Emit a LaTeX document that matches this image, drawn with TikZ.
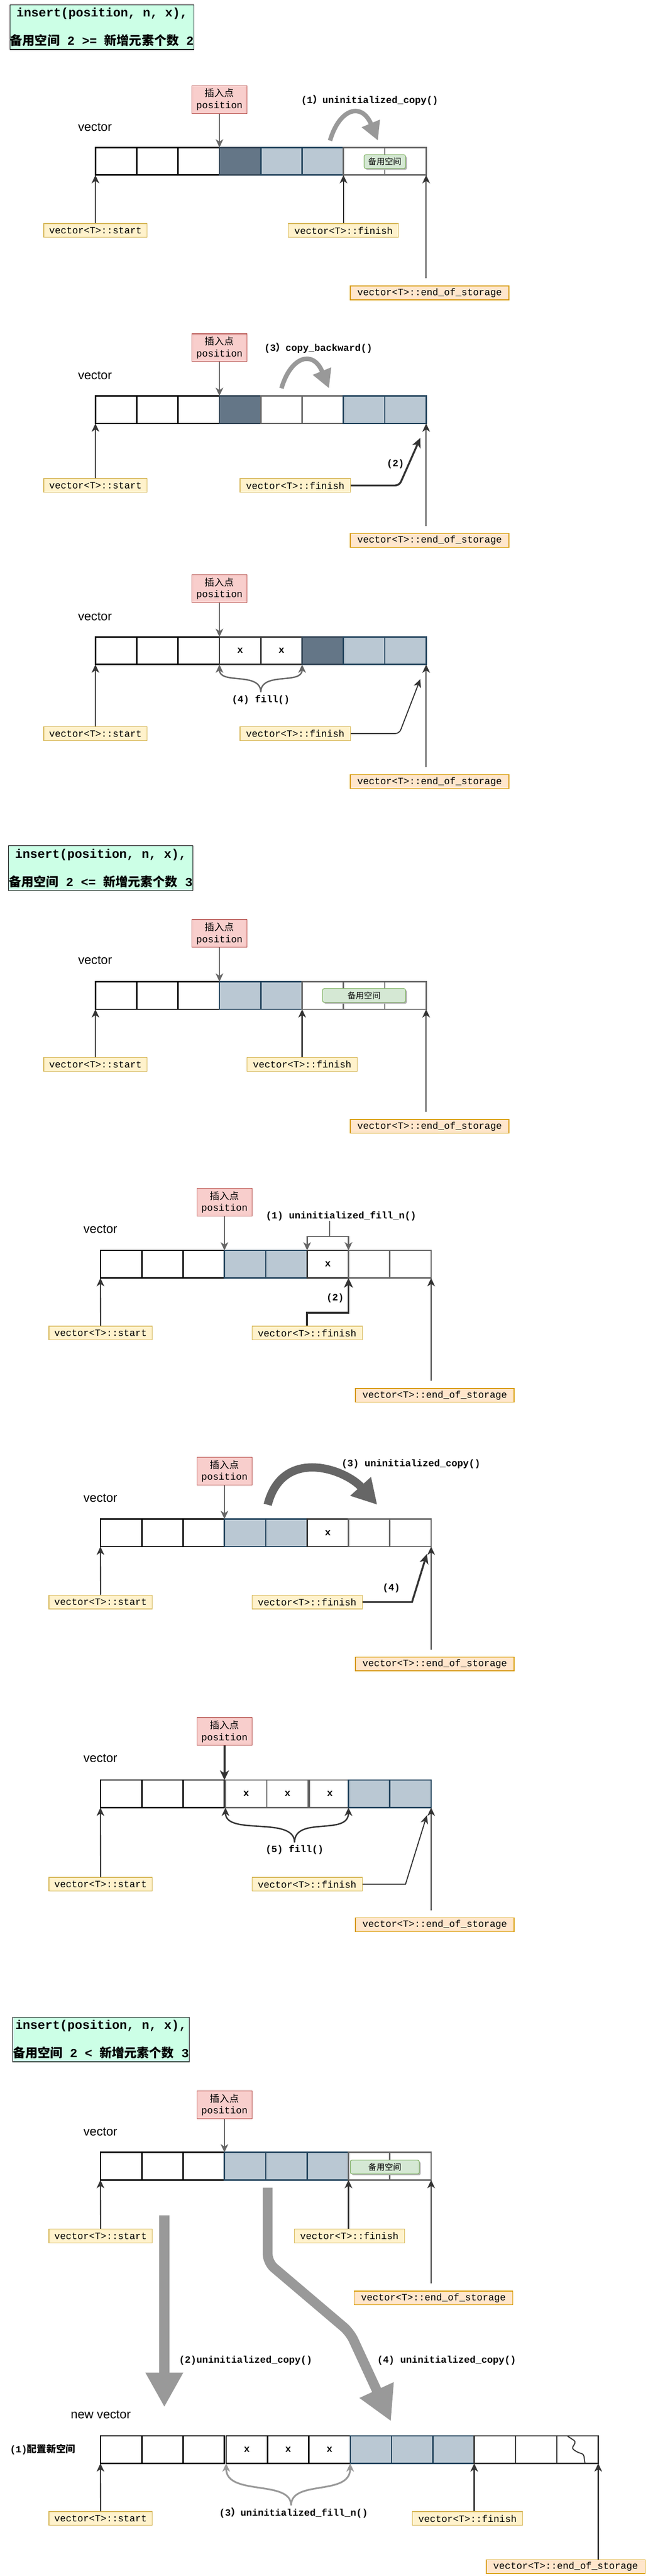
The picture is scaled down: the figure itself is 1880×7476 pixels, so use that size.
\documentclass[tikz,border=0pt]{standalone}
\usepackage{fontspec}
\setmainfont{Liberation Sans}
\setmonofont{Liberation Mono}
\newfontfamily\cjk{Noto Sans CJK SC}
\usepackage{tikz}
\usetikzlibrary{arrows.meta,shadows,calc}

\definecolor{mint}{HTML}{CCFFE6}
\definecolor{pinkF}{HTML}{F8CECC}
\definecolor{pinkD}{HTML}{B85450}
\definecolor{yelF}{HTML}{FFF2CC}
\definecolor{yelD}{HTML}{D6B656}
\definecolor{oraF}{HTML}{FFE6CC}
\definecolor{oraD}{HTML}{D79B00}
\definecolor{grnF}{HTML}{D5E8D4}
\definecolor{grnD}{HTML}{82B366}
\definecolor{drkF}{HTML}{647687}
\definecolor{drkD}{HTML}{314354}
\definecolor{bluF}{HTML}{BAC8D3}
\definecolor{bluD}{HTML}{23445D}
\definecolor{g3}{HTML}{333333}
\definecolor{g6}{HTML}{666666}
\definecolor{g9}{HTML}{999999}

\tikzset{
  cell/.style={draw, line width=2pt, minimum width=60pt, minimum height=40pt, inner sep=0pt, outer sep=0pt, font=\ttfamily\bfseries\fontsize{14}{17}\selectfont},
  blk/.style={draw=black, fill=white},
  gry/.style={draw=g6, fill=white},
  dkg/.style={draw=g3, fill=white},
  drk/.style={draw=drkD, fill=drkF},
  blu/.style={draw=bluD, fill=bluF},
  title/.style={draw=black, fill=mint, line width=1pt, minimum height=64.7pt, inner sep=0pt, align=center, font=\ttfamily\bfseries\fontsize{18}{41}\selectfont},
  insp/.style={draw=pinkD, fill=pinkF, line width=1pt, minimum width=80pt, minimum height=40.3pt, inner sep=0pt, align=center, font=\ttfamily\fontsize{14}{17}\selectfont},
  ylw/.style={draw=yelD, fill=yelF, line width=1pt, minimum height=20pt, inner sep=0pt, font=\ttfamily\fontsize{14}{17}\selectfont},
  org/.style={draw=oraD, fill=oraF, line width=1pt, minimum width=230.3pt, minimum height=20pt, inner sep=0pt, font=\ttfamily\fontsize{14}{17}\selectfont},
  spare/.style={draw=grnD, fill=grnF, line width=1pt, rounded corners=2.5pt, minimum height=20pt, inner sep=0pt, font=\cjk\fontsize{12}{14}\selectfont, drop shadow={shadow xshift=2pt, shadow yshift=-2pt, fill=black!30, opacity=1}},
  vec/.style={inner sep=0pt, font=\fontsize{18}{22}\selectfont},
  lbl/.style={inner sep=0pt, font=\ttfamily\bfseries\fontsize{14}{17}\selectfont},
  ptip/.tip={Stealth[length=12pt,width=11pt,inset=3.5pt]},
  btip/.tip={Stealth[length=14pt,width=13pt,inset=4pt]},
  ptr/.style={draw=g3, line width=1.75pt, -ptip},
  posa/.style={draw=g6, line width=1.5pt, -ptip},
  thk/.style={draw=g3, line width=2.75pt, rounded corners=6pt, -btip},
  thn/.style={draw=g3, line width=1.5pt, rounded corners=6pt, -ptip},
  brc/.style={line width=2pt, ptip-ptip},
  cbend/.style={draw=g9, line width=6.5pt, -{Triangle[length=27pt,width=27pt]}},
  fat/.style={draw=g9, line width=14.25pt, rounded corners=12pt, -{Triangle[length=50pt,width=51pt]}}
}

\begin{document}
\begin{tikzpicture}[x=0.5pt,y=-0.5pt]
    \fill[white] (0,0) rectangle (1880,7476);
    \useasboundingbox (0,0) rectangle (1880,7476);

    \node[title, minimum width=267pt] (t1) at (296,78.6) {insert(position, n, x),\\{\cjk 备用空间} 2 >= {\cjk 新增元素个数} 2};
    \node[vec] (v1) at (275.6,369) {vector};
    \foreach \k/\s in {0/blk,1/blk,2/blk,3/drk,4/blu,5/blu,6/gry,7/gry}
        \node[cell,\s] (p1c\k) at ({277+(\k+0.5)*120},468) {};
    \node[insp] (ps1) at (637,289) {{\cjk 插入点}\\position};
    \draw[posa] (ps1) -- (p1c3.north west);
    \node[lbl] (l1) at (1073,290) {(1{\cjk ）}uninitialized\_copy()};
    \coordinate (k1a) at (958,408);
    \coordinate (k1b) at (1097,408);
    \draw[cbend] (k1a) .. controls (985,315) and (1050,295) .. (k1b);
    \node[spare, minimum width=60pt] (s1) at (1117,469) {备用空间};
    \node[ylw, minimum width=150pt] (st1) at (277,669) {vector<T>::start};
    \node[ylw, minimum width=160pt] (fn1) at (997,669) {vector<T>::finish};
    \node[org] (eos1) at (1247,850) {vector<T>::end\_of\_storage};
    \draw[ptr] (st1) -- (p1c0.south west);
    \draw[ptr] (fn1) -- (p1c6.south west);
    \coordinate (e1) at ($(p1c7.south east |- eos1.north)+(0,-21)$);
    \draw[ptr] (e1) -- (p1c7.south east);

    \node[vec] (v2) at (275.6,1090) {vector};
    \foreach \k/\s in {0/blk,1/blk,2/blk,3/drk,4/gry,5/gry,6/blu,7/blu}
        \node[cell,\s] (p2c\k) at ({277+(\k+0.5)*120},1189) {};
    \node[insp] (ps2) at (637,1009) {{\cjk 插入点}\\position};
    \draw[posa] (ps2) -- (p2c3.north west);
    \node[lbl] (l2) at (924,1010) {(3{\cjk ）}copy\_backward()};
    \coordinate (k2a) at (817,1127);
    \coordinate (k2b) at (955,1127);
    \draw[cbend] (k2a) .. controls (844,1034) and (909,1014) .. (k2b);
    \node[ylw, minimum width=150pt] (st2) at (277,1409) {vector<T>::start};
    \node[ylw, minimum width=160pt] (fn2) at (857,1409) {vector<T>::finish};
    \node[org] (eos2) at (1247,1568.5) {vector<T>::end\_of\_storage};
    \draw[ptr] (st2) -- (p2c0.south west);
    \coordinate (k2c) at (1220,1271);
    \draw[thk] (fn2.east) -- (1159,1409) -- (k2c);
    \node[lbl] (n2) at (1148,1347) {(2)};
    \coordinate (e2) at ($(p2c7.south east |- eos2.north)+(0,-21)$);
    \draw[ptr] (e2) -- (p2c7.south east);

    \node[vec] (v3) at (275.6,1790) {vector};
    \foreach \k/\s/\q in {0/blk/{},1/blk/{},2/blk/{},3/dkg/x,4/dkg/x,5/drk/{},6/blu/{},7/blu/{}}
        \node[cell,\s] (p3c\k) at ({277+(\k+0.5)*120},1888.5) {\q};
    \node[insp] (ps3) at (637,1708.5) {{\cjk 插入点}\\position};
    \draw[posa] (ps3) -- (p3c3.north west);
    \coordinate (m3) at (757,2009);
    \draw[brc, draw=g6] (p3c3.south west) .. controls (637,1988) and (757,1948) .. (m3) .. controls (757,1948) and (877,1988) .. (p3c5.south west);
    \node[lbl] (f3) at (757,2031) {(4) fill()};
    \node[ylw, minimum width=150pt] (st3) at (277,2129) {vector<T>::start};
    \node[ylw, minimum width=160pt] (fn3) at (857,2129) {vector<T>::finish};
    \node[org] (eos3) at (1247,2268.5) {vector<T>::end\_of\_storage};
    \draw[ptr] (st3) -- (p3c0.south west);
    \coordinate (k3c) at (1220,1971);
    \draw[thn] (fn3.east) -- (1159,2129) -- (k3c);
    \coordinate (e3) at ($(p3c7.south east |- eos3.north)+(0,-21)$);
    \draw[ptr] (e3) -- (p3c7.south east);

    \node[title, minimum width=267.7pt] (t2) at (292.5,2519.5) {insert(position, n, x),\\{\cjk 备用空间} 2 <= {\cjk 新增元素个数} 3};
    \node[vec] (v4) at (276,2787.5) {vector};
    \foreach \k/\s in {0/blk,1/blk,2/blk,3/blu,4/blu,5/gry,6/gry,7/gry}
        \node[cell,\s] (p4c\k) at ({277+(\k+0.5)*120},2889) {};
    \node[insp] (ps4) at (637,2709) {{\cjk 插入点}\\position};
    \draw[posa] (ps4) -- (p4c3.north west);
    \node[spare, minimum width=120.4pt] (s4) at (1056.7,2889) {备用空间};
    \node[ylw, minimum width=150pt] (st4) at (277,3089) {vector<T>::start};
    \node[ylw, minimum width=160pt] (fn4) at (877,3089) {vector<T>::finish};
    \node[org] (eos4) at (1247,3269) {vector<T>::end\_of\_storage};
    \draw[ptr] (st4) -- (p4c0.south west);
    \draw[ptr] (fn4) -- (p4c5.south west);
    \coordinate (e4) at ($(p4c7.south east |- eos4.north)+(0,-21)$);
    \draw[ptr] (e4) -- (p4c7.south east);

    \node[vec] (v5) at (291.5,3568) {vector};
    \foreach \k/\s/\q in {0/blk/{},1/blk/{},2/blk/{},3/blu/{},4/blu/{},5/dkg/x,6/gry/{},7/gry/{}}
        \node[cell,\s] (p5c\k) at ({291.5+(\k+0.5)*120},3669) {\q};
    \node[insp] (ps5) at (651.5,3489) {{\cjk 插入点}\\position};
    \draw[posa] (ps5) -- (p5c3.north west);
    \node[lbl] (l5) at (990,3530) {(1) uninitialized\_fill\_n()};
    \coordinate (b5) at (957,3588.5);
    \draw[g6, line width=2pt] (l5.south -| b5) -- (b5);
    \draw[posa, line width=2pt] (b5) -| (p5c5.north west);
    \draw[posa, line width=2pt] (b5) -| (p5c6.north west);
    \node[ylw, minimum width=150pt] (st5) at (292,3868.5) {vector<T>::start};
    \node[ylw, minimum width=160pt] (fn5) at (891.5,3868.5) {vector<T>::finish};
    \node[org] (eos5) at (1262,4049.5) {vector<T>::end\_of\_storage};
    \draw[ptr] (st5) -- (p5c0.south west);
    \coordinate (k5) at (891.5,3809.5);
    \draw[thk, rounded corners=0pt] (fn5.north) -- (k5) -| (p5c6.south west);
    \node[lbl] (n5) at (973,3768) {(2)};
    \coordinate (e5) at ($(p5c7.south east |- eos5.north)+(0,-21)$);
    \draw[ptr] (e5) -- (p5c7.south east);

    \node[vec] (v6) at (291.5,4348) {vector};
    \foreach \k/\s/\q in {0/blk/{},1/blk/{},2/blk/{},3/blu/{},4/blu/{},5/dkg/x,6/gry/{},7/gry/{}}
        \node[cell,\s] (p6c\k) at ({291.5+(\k+0.5)*120},4448.5) {\q};
    \node[insp] (ps6) at (651.5,4269.5) {{\cjk 插入点}\\position};
    \draw[posa] (ps6) -- (p6c3.north west);
    \node[lbl] (l6) at (1193,4249.5) {(3) uninitialized\_copy()};
    \coordinate (k6a) at (777,4367);
    \coordinate (k6b) at (1095,4367);
    \draw[draw=g6, line width=12pt, -{Triangle[length=36pt,width=38pt]}] (k6a) .. controls (820,4200) and (1000,4262) .. (k6b);
    \node[ylw, minimum width=150pt] (st6) at (292,4649.5) {vector<T>::start};
    \node[ylw, minimum width=160pt] (fn6) at (891.5,4649.5) {vector<T>::finish};
    \node[org] (eos6) at (1262,4829) {vector<T>::end\_of\_storage};
    \draw[ptr] (st6) -- (p6c0.south west);
    \coordinate (k6c) at (1239,4510);
    \draw[thk, rounded corners=0pt] (fn6.east) -- (1196,4649.5) -- (k6c);
    \node[lbl] (n6) at (1136,4609) {(4)};
    \coordinate (e6) at ($(p6c7.south east |- eos6.north)+(0,-21)$);
    \draw[ptr] (e6) -- (p6c7.south east);

    \node[vec] (v7) at (291.5,5103) {vector};
    \foreach \k/\s/\q/\d in {0/blk/{}/0,1/blk/{}/0,2/blk/{}/0,3/gry/x/3,4/gry/x/3,5/gry/x/6,6/blu/{}/0,7/blu/{}/0}
        \node[cell,\s] (p7c\k) at ({291.5+(\k+0.5)*120+\d},5206) {\q};
    \node[insp] (ps7) at (651.5,5025) {{\cjk 插入点}\\position};
    \draw[thk] (ps7) -- (p7c2.north east);
    \coordinate (m7) at (855,5347);
    \draw[brc, draw=g3] (p7c3.south west) .. controls (654.5,5329) and (855,5269) .. (m7) .. controls (855,5269) and (1011.5,5329) .. (p7c6.south west);
    \node[lbl] (f7) at (855,5369) {(5) fill()};
    \node[ylw, minimum width=150pt] (st7) at (292,5468.5) {vector<T>::start};
    \node[ylw, minimum width=160pt] (fn7) at (891.5,5468.5) {vector<T>::finish};
    \node[org] (eos7) at (1262,5586) {vector<T>::end\_of\_storage};
    \draw[ptr] (st7) -- (p7c0.south west);
    \coordinate (k7c) at (1239,5268.5);
    \draw[thn, rounded corners=0pt] (fn7.east) -- (1177,5468.5) -- (k7c);
    \coordinate (e7) at ($(p7c7.south east |- eos7.north)+(0,-21)$);
    \draw[ptr] (e7) -- (p7c7.south east);

    \node[title, minimum width=256.2pt] (t3) at (293,5919) {insert(position, n, x),\\{\cjk 备用空间} 2 < {\cjk 新增元素个数} 3};
    \node[vec] (v8) at (291.5,6187) {vector};
    \foreach \k/\s in {0/blk,1/blk,2/blk,3/blu,4/blu,5/blu,6/gry,7/gry}
        \node[cell,\s] (p8c\k) at ({291.5+(\k+0.5)*120},6286.5) {};
    \node[insp] (ps8) at (651.5,6108.5) {{\cjk 插入点}\\position};
    \draw[posa] (ps8) -- (p8c3.north west);
    \node[spare, minimum width=100pt] (s8) at (1117,6289) {备用空间};
    \node[ylw, minimum width=150pt] (st8) at (292,6489) {vector<T>::start};
    \node[ylw, minimum width=160pt] (fn8) at (1014,6489) {vector<T>::finish};
    \node[org] (eos8) at (1258,6669) {vector<T>::end\_of\_storage};
    \draw[ptr] (st8) -- (p8c0.south west);
    \draw[ptr] (fn8.north -| p8c6.south west) -- (p8c6.south west);
    \coordinate (e8) at ($(p8c7.south east |- eos8.north)+(0,-21)$);
    \draw[ptr] (e8) -- (p8c7.south east);
    \coordinate (g2a) at (477,6429);
    \coordinate (g2b) at (477,6986);
    \draw[fat] (g2a) -- (g2b);
    \node[lbl] (l8a) at (713,6850) {(2)uninitialized\_copy()};
    \coordinate (g4a) at (777,6349);
    \coordinate (g4b) at (1135,7027);
    \draw[fat] (g4a) -- (777,6566) -- (1016,6769) -- (g4b);
    \node[lbl] (l8b) at (1296.5,6850) {(4) uninitialized\_copy()};

    \node[vec] (v9) at (292.5,7007.5) {new vector};
    \node[lbl] (a9) at (124,7108) {(1){\cjk 配置新空间}};
    \foreach \k/\s/\q/\d in {0/blk/{}/0,1/blk/{}/0,2/blk/{}/0,3/blk/x/5,4/blk/x/5,5/blk/x/5,6/blu/{}/5,7/blu/{}/5,8/blu/{}/5,9/dkg/{}/5,10/dkg/{}/5,11/dkg/{}/5}
        \node[cell,\s] (p9c\k) at ({291.5+(\k+0.5)*120+\d},7109) {\q};
    \draw[line width=1.5pt, g3, rounded corners=3pt] (1647.5,7070) -- (1671.5,7086) -- (1660,7106) -- (1677.5,7117.5) -- (1694,7122) -- (1698,7148);
    \coordinate (m9) at (845,7271);
    \draw[brc, draw=g9, line width=2.5pt] (p9c3.south west) .. controls (656.5,7245) and (845,7195) .. (m9) .. controls (845,7195) and (1016.5,7245) .. (p9c6.south west);
    \node[lbl] (f9) at (852,7292) {(3{\cjk ）}uninitialized\_fill\_n()};
    \node[ylw, minimum width=150pt] (st9) at (292,7309) {vector<T>::start};
    \node[ylw, minimum width=160pt] (fn9) at (1357,7309) {vector<T>::finish};
    \node[org] (eos9) at (1642,7448.6) {vector<T>::end\_of\_storage};
    \draw[ptr] (st9) -- (p9c0.south west);
    \draw[ptr] (fn9.north -| p9c9.south west) -- (p9c9.south west);
    \draw[ptr] (eos9.north -| p9c11.south east) -- (p9c11.south east);
\end{tikzpicture}
\end{document}
